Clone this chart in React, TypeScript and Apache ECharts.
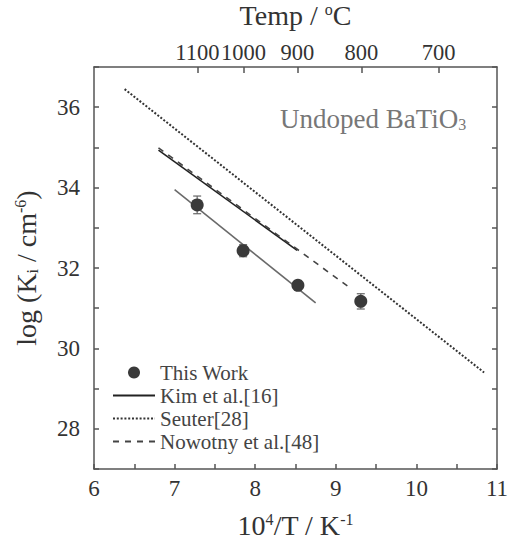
import React, { useEffect, useRef } from 'react';
import * as echarts from 'echarts';

// ---- data ----
const xMin = 6;
const xMax = 11;
const yMin = 27;
const yMax = 37;
const topTempsC = [1100, 1000, 900, 800, 700];

const thisWorkX = [7.28, 7.85, 8.53, 9.31];
const thisWorkY = [33.57, 32.43, 31.57, 31.17];
const thisWorkErr = [0.22, 0.15, 0.12, 0.19];

const fitX = [7.0, 8.75];
const fitY = [33.95, 31.13];

const kimX = [6.8, 8.52];
const kimY = [34.93, 32.44];

const seuterX = [6.38, 10.84];
const seuterY = [36.45, 29.4];

const nowotnyX = [6.8, 9.18];
const nowotnyY = [34.99, 31.5];

const legendNames = ['This Work', 'Kim et al.[16]', 'Seuter[28]', 'Nowotny et al.[48]'];

const FONT = 'Liberation Serif, DejaVu Serif, serif';

const zip = (xs: number[], ys: number[]) => xs.map((x, i) => [x, ys[i]]);

export default function App() {
  const ref = useRef<HTMLDivElement>(null);

  useEffect(() => {
    document.body.style.margin = '0';
    if (!ref.current) return;
    const chart = echarts.init(ref.current, undefined, { renderer: 'svg' });
    const topPos = topTempsC.map((t) => 1e4 / (t + 273.15));
    const axisColor = '#555';
    const labelColor = '#333';
    const supStyle = { fontFamily: FONT, fontSize: 16, color: labelColor, verticalAlign: 'top' };
    const subStyle = { fontFamily: FONT, fontSize: 16, color: labelColor, verticalAlign: 'bottom' };

    const option: any = {
      animation: false,
      backgroundColor: '#fff',
      textStyle: { fontFamily: FONT },
      grid: { left: 94, right: 17, top: 67, bottom: 74, containLabel: false, outerBoundsMode: 'none' },
      xAxis: [
        {
          type: 'value',
          position: 'bottom',
          min: xMin,
          max: xMax,
          interval: 0.5,
          axisLine: { show: true, onZero: false, lineStyle: { color: axisColor, width: 1.5 } },
          axisTick: { show: true, inside: true, length: 5, lineStyle: { color: axisColor, width: 1.5 } },
          splitLine: { show: false },
          axisLabel: {
            fontFamily: FONT,
            fontSize: 23,
            color: labelColor,
            margin: 8,
            showMinLabel: true,
            showMaxLabel: true,
            formatter: (v: number) => (Math.abs(v - Math.round(v)) < 1e-6 ? String(Math.round(v)) : ''),
          },
          name: '10{sup|4}/T / K{sup|-1}',
          nameLocation: 'middle',
          nameGap: 42,
          nameTextStyle: {
            fontFamily: FONT,
            fontSize: 28,
            color: labelColor,
            rich: { sup: supStyle },
          },
        },
        {
          type: 'value',
          position: 'top',
          min: xMin,
          max: xMax,
          axisLine: { show: true, onZero: false, lineStyle: { color: axisColor, width: 1.5 } },
          axisTick: {
            show: true,
            inside: true,
            length: 6,
            customValues: topPos,
            lineStyle: { color: axisColor, width: 1.5 },
          },
          splitLine: { show: false },
          axisLabel: {
            fontFamily: FONT,
            fontSize: 22.5,
            color: labelColor,
            margin: 3,
            customValues: topPos,
            showMinLabel: true,
            showMaxLabel: true,
            hideOverlap: false,
            formatter: (v: number) => {
              const i = topPos.findIndex((p) => Math.abs(p - v) < 1e-6);
              return i >= 0 ? String(topTempsC[i]) : '';
            },
          },
          name: 'Temp / {sup|o}C',
          nameLocation: 'middle',
          nameGap: 38,
          nameTextStyle: {
            fontFamily: FONT,
            fontSize: 28,
            color: labelColor,
            rich: { sup: supStyle },
          },
        },
      ],
      yAxis: [
        {
          type: 'value',
          position: 'left',
          min: yMin,
          max: yMax,
          interval: 1,
          axisLine: { show: true, onZero: false, lineStyle: { color: axisColor, width: 1.5 } },
          axisTick: { show: true, inside: true, length: 5, lineStyle: { color: axisColor, width: 1.5 } },
          splitLine: { show: false },
          axisLabel: {
            fontFamily: FONT,
            fontSize: 23,
            color: labelColor,
            margin: 14,
            formatter: (v: number) => (Math.round(v) % 2 === 0 ? String(Math.round(v)) : ''),
          },
          name: 'log (K{sub|i} / cm{sup|-6})',
          nameLocation: 'middle',
          nameGap: 54,
          nameTextStyle: {
            fontFamily: FONT,
            fontSize: 28,
            color: labelColor,
            rich: { sup: supStyle, sub: subStyle },
          },
        },
        {
          type: 'value',
          position: 'right',
          min: yMin,
          max: yMax,
          interval: 1,
          axisLine: { show: true, onZero: false, lineStyle: { color: axisColor, width: 1.5 } },
          axisTick: { show: true, inside: true, length: 5, lineStyle: { color: axisColor, width: 1.5 } },
          splitLine: { show: false },
          axisLabel: { show: false },
        },
      ],
      legend: {
        data: legendNames.map((n) =>
          n === 'This Work' ? { name: n, icon: 'circle' } : { name: n, itemStyle: { opacity: 0 } }
        ),
        orient: 'vertical',
        left: 112,
        top: 362,
        padding: 0,
        itemWidth: 42,
        itemHeight: 12,
        itemGap: 2,
        selectedMode: false,
        textStyle: { fontFamily: FONT, fontSize: 21, color: '#444', lineHeight: 20 },
      },
      graphic: [
        {
          type: 'text',
          x: 280,
          y: 105,
          style: {
            text: 'Undoped BaTiO{sub|3}',
            fontFamily: FONT,
            fontSize: 27,
            fill: '#777',
            rich: {
              sub: { fontFamily: FONT, fontSize: 16, fill: '#777', verticalAlign: 'bottom' },
            },
          },
        },
      ],
      series: [
        {
          name: 'This Work fit',
          type: 'line',
          xAxisIndex: 0,
          yAxisIndex: 0,
          data: zip(fitX, fitY),
          symbol: 'none',
          lineStyle: { color: '#6a6a6a', width: 1.6 },
          itemStyle: { color: '#6a6a6a' },
          z: 2,
        },
        {
          name: 'Kim et al.[16]',
          type: 'line',
          data: zip(kimX, kimY),
          symbol: 'none',
          lineStyle: { color: '#222', width: 1.6 },
          itemStyle: { color: '#222' },
          z: 2,
        },
        {
          name: 'Seuter[28]',
          type: 'line',
          data: zip(seuterX, seuterY),
          symbol: 'none',
          lineStyle: { color: '#333', width: 2, type: [2, 1.8] },
          itemStyle: { color: '#333' },
          z: 2,
        },
        {
          name: 'Nowotny et al.[48]',
          type: 'line',
          data: zip(nowotnyX, nowotnyY),
          symbol: 'none',
          lineStyle: { color: '#444', width: 1.6, type: [6, 6] },
          itemStyle: { color: '#444' },
          z: 2,
        },
        {
          name: 'errors',
          type: 'custom',
          data: thisWorkX.map((x, i) => [x, thisWorkY[i], thisWorkErr[i]]),
          renderItem: (params: any, api: any) => {
            const x = api.value(0);
            const y = api.value(1);
            const e = api.value(2);
            const top = api.coord([x, y + e]);
            const bot = api.coord([x, y - e]);
            const cw = 4;
            const st = { stroke: '#666', lineWidth: 1.2 };
            return {
              type: 'group',
              children: [
                { type: 'line', shape: { x1: top[0], y1: top[1], x2: bot[0], y2: bot[1] }, style: st },
                { type: 'line', shape: { x1: top[0] - cw, y1: top[1], x2: top[0] + cw, y2: top[1] }, style: st },
                { type: 'line', shape: { x1: bot[0] - cw, y1: bot[1], x2: bot[0] + cw, y2: bot[1] }, style: st },
              ],
            };
          },
          z: 3,
        },
        {
          name: 'This Work',
          type: 'scatter',
          data: zip(thisWorkX, thisWorkY),
          symbol: 'circle',
          symbolSize: 13,
          itemStyle: { color: '#3a3a3a', opacity: 1 },
          z: 4,
        },
      ],
    };

    chart.setOption(option);
    return () => chart.dispose();
  }, []);

  return <div ref={ref} style={{ width: 514, height: 543 }} />;
}
